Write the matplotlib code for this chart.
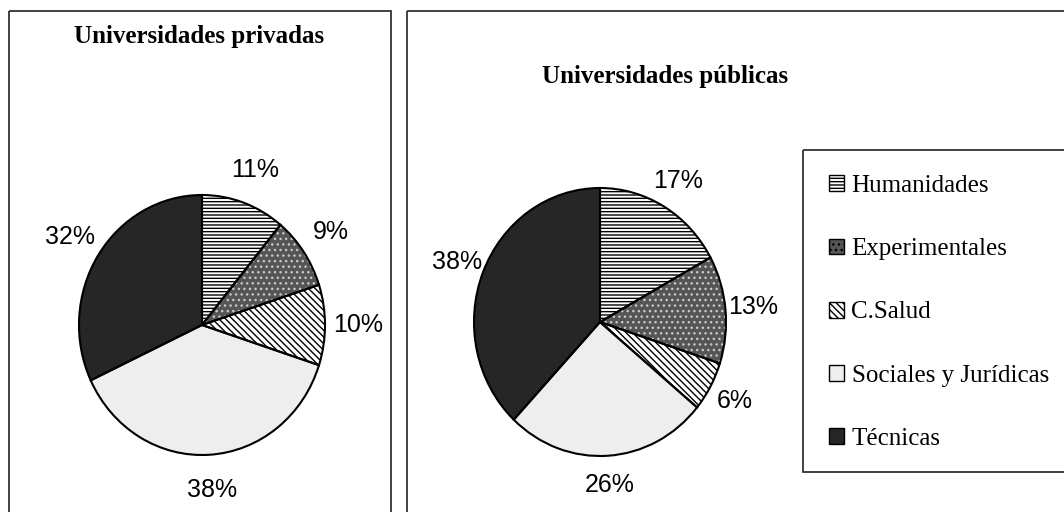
# -*- coding: utf-8 -*-
# dos tartas: universidades privadas / públicas
import matplotlib
matplotlib.use("Agg")
import matplotlib.pyplot as plt
from matplotlib.patches import Rectangle, Patch

# ---------- datos ----------
categorias = ["Humanidades", "Experimentales", "C.Salud", "Sociales y Jurídicas", "Técnicas"]
privadas = [11, 9, 10, 38, 32]
publicas = [17, 13, 6, 26, 38]
titulo_priv = "Universidades privadas"
titulo_pub = "Universidades públicas"

# ---------- estilo ----------
colores = ["white", "#555555", "white", "#eeeeee", "#262626"]
tramas = ["-----", "...", "\\\\\\\\\\", None, None]
color_trama = ["black", "#c8c8c8", "black", "#eeeeee", "#262626"]
plt.rcParams["hatch.linewidth"] = 1.0

W, H = 1064, 512
fig = plt.figure(figsize=(W / 100, H / 100), dpi=100)

# capa de fondo en píxeles para marcos y textos
bg = fig.add_axes([0, 0, 1, 1], zorder=0)
bg.set_xlim(0, W); bg.set_ylim(H, 0); bg.axis("off")
for x0, x1 in [(9, 391), (407, 1090)]:
    bg.add_patch(Rectangle((x0, 11), x1 - x0, 540, fill=False, ec="#333333", lw=1.3))
bg.add_patch(Rectangle((803, 150), 300, 322, fill=False, ec="#333333", lw=1.3))

bg.text(199, 37, titulo_priv, ha="center", va="center", fontsize=18,
        fontweight="bold", family="Liberation Serif")
bg.text(665, 76, titulo_pub, ha="center", va="center", fontsize=18,
        fontweight="bold", family="Liberation Serif")


def tarta(cx, cy, rx, ry, valores, dist):
    ax = fig.add_axes([(cx - rx) / W, 1 - (cy + ry) / H, 2 * rx / W, 2 * ry / H], zorder=1)
    etiquetas = [f"{v}%" for v in valores]
    cuñas, textos = ax.pie(valores, labels=etiquetas, colors=colores, startangle=90,
                           counterclock=False, labeldistance=dist,
                           wedgeprops=dict(linewidth=0))
    for c, h, hc in zip(cuñas, tramas, color_trama):
        c.set_edgecolor(hc)
        if h:
            c.set_hatch(h)
    for t in textos:
        t.set_ha("center"); t.set_va("center")
        t.set_fontsize(18); t.set_family("Liberation Sans")
    # contorno negro encima
    ax.pie(valores, startangle=90, counterclock=False,
           wedgeprops=dict(facecolor="none", edgecolor="black", linewidth=1.5))
    ax.set_aspect("auto")
    ax.set_xlim(-1, 1); ax.set_ylim(-1, 1)
    return cuñas


tarta(202, 325, 123, 130, privadas, 1.27)
tarta(600, 322, 126, 134, publicas, 1.22)

# ---------- leyenda ----------
manejadores = [Patch(facecolor=f, edgecolor="black", hatch=h, linewidth=1.0)
               for f, h in zip(colores, tramas)]
fig.legend(manejadores, categorias, loc="upper left",
           bbox_to_anchor=(829 / W, 1 - 175 / H), frameon=False,
           prop={"family": "Liberation Serif", "size": 18},
           handlelength=0.6, handleheight=0.6, handletextpad=0.3,
           labelspacing=1.65, borderaxespad=0, borderpad=0)

fig.savefig("out.png", dpi=100)
